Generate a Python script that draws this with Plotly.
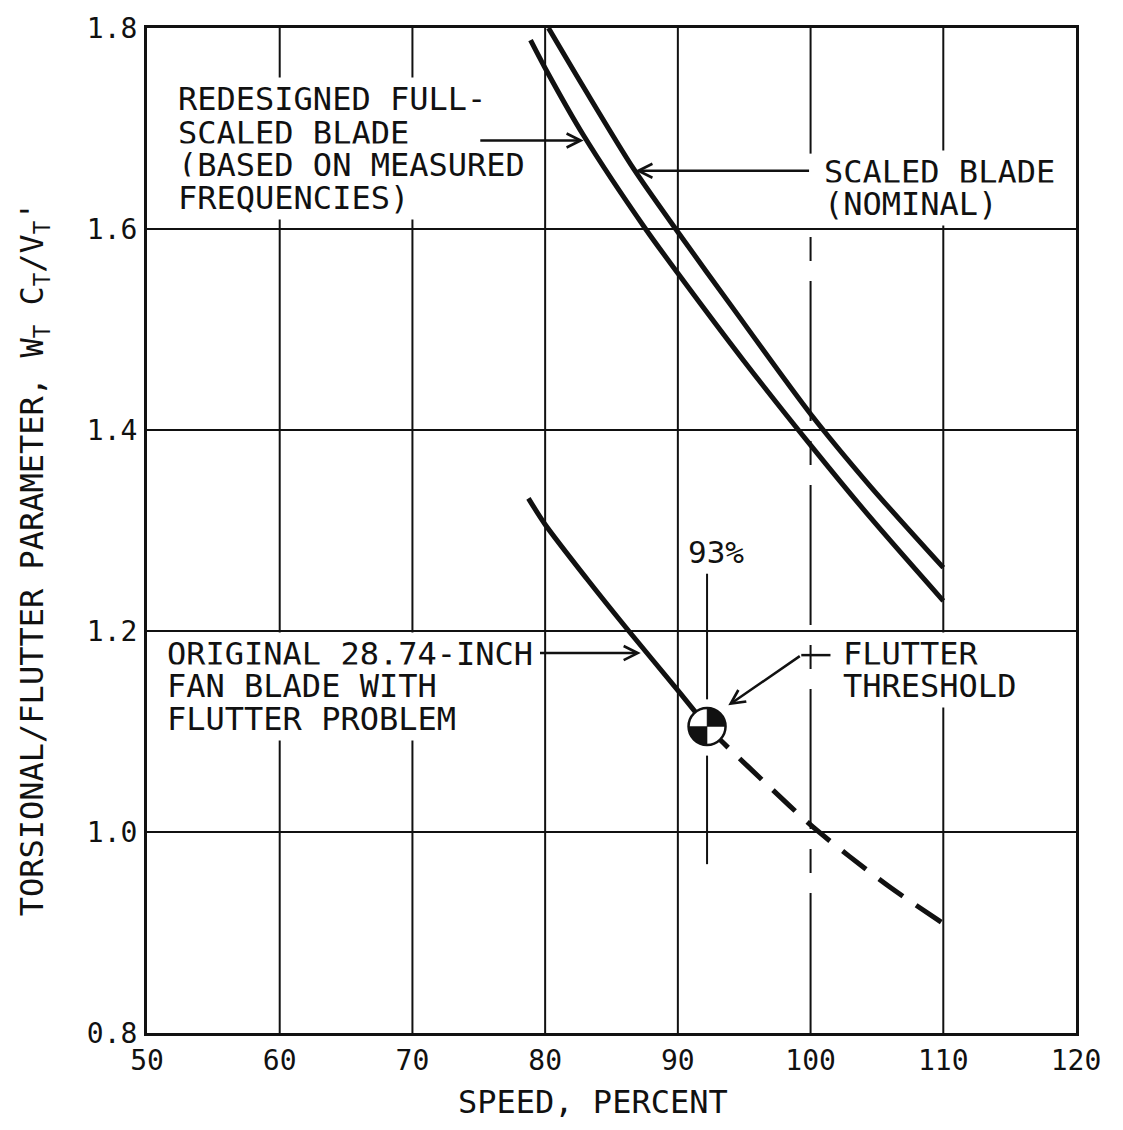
import numpy as np
import plotly.graph_objects as go

# ---------------- data ----------------
speed_scaled = [80.25, 82.9, 86.66, 90.0, 94.0, 100.0, 104.5, 110.0]
param_scaled = [1.800, 1.741, 1.660, 1.597, 1.524, 1.416, 1.344, 1.263]

speed_redesigned = [78.9, 80.17, 82.9, 87.57, 90.0, 94.96, 100.0, 104.5, 110.0]
param_redesigned = [1.788, 1.756, 1.693, 1.600, 1.556, 1.469, 1.385, 1.313, 1.230]

speed_original = [78.74, 80.0, 83.2, 86.3, 90.0, 92.2]
param_original = [1.332, 1.306, 1.251, 1.200, 1.141, 1.105]

speed_original_ext = [92.2, 93.4, 96.9, 100.0, 102.9, 106.1, 110.0]
param_original_ext = [1.105, 1.089, 1.045, 1.007, 0.976, 0.944, 0.909]

flutter_speed = 92.2
flutter_param = 1.105

x_ticks = [50, 60, 70, 80, 90, 100, 110, 120]
x_ticktext = ["50", "60", "70", "80", "90", "100", "110", "120"]
y_ticks = [0.8, 1.0, 1.2, 1.4, 1.6, 1.8]
y_ticktext = ["0.8", "1.0", "1.2", "1.4", "1.6", "1.8"]

FONT = "DejaVu Sans Mono"
INK = "#111111"

fig = go.Figure()

curve_line = dict(color=INK, width=5, shape="spline", smoothing=0.8)
fig.add_trace(go.Scatter(x=speed_scaled, y=param_scaled, mode="lines", line=curve_line,
                         name="Scaled blade (nominal)", showlegend=False, hoverinfo="skip"))
fig.add_trace(go.Scatter(x=speed_redesigned, y=param_redesigned, mode="lines", line=curve_line,
                         name="Redesigned full-scaled blade", showlegend=False, hoverinfo="skip"))
fig.add_trace(go.Scatter(x=speed_original, y=param_original, mode="lines", line=curve_line,
                         name="Original blade", showlegend=False, hoverinfo="skip"))
fig.add_trace(go.Scatter(x=speed_original_ext, y=param_original_ext, mode="lines",
                         line=dict(color=INK, width=5, shape="spline", smoothing=0.8, dash="30px,16px"),
                         name="Original blade (extrapolated)", showlegend=False, hoverinfo="skip"))

shapes = []
grid_w = 2
# vertical grid lines
for xv in x_ticks[1:-1]:
    if xv == 100:
        continue
    shapes.append(dict(type="line", xref="x", yref="paper", x0=xv, x1=xv, y0=0, y1=1,
                       line=dict(color=INK, width=grid_w), layer="below"))
# the 100 % line: solid at the top, dash-dot below 1.6
shapes.append(dict(type="line", xref="x", yref="y", x0=100, x1=100, y0=1.8, y1=1.675,
                   line=dict(color=INK, width=grid_w), layer="below"))
shapes.append(dict(type="line", xref="x", yref="y", x0=100, x1=100, y0=0.8, y1=1.6,
                   line=dict(color=INK, width=grid_w, dash="140px,20px,24px,20px"), layer="below"))
# horizontal grid lines
for yv in y_ticks[1:-1]:
    shapes.append(dict(type="line", xref="paper", yref="y", x0=0, x1=1, y0=yv, y1=yv,
                       line=dict(color=INK, width=grid_w), layer="below"))

# 93 % marker line (broken around the symbol)
shapes.append(dict(type="line", xref="x", yref="y", x0=flutter_speed, x1=flutter_speed,
                   y0=1.257, y1=1.132, line=dict(color=INK, width=2), layer="below"))
shapes.append(dict(type="line", xref="x", yref="y", x0=flutter_speed, x1=flutter_speed,
                   y0=1.076, y1=0.968, line=dict(color=INK, width=2), layer="below"))

# flutter threshold leader (horizontal part)
shapes.append(dict(type="line", xref="x", yref="y", x0=101.5, x1=99.3, y0=1.176, y1=1.176,
                   line=dict(color=INK, width=2.5), layer="above"))

# flutter-threshold symbol: quartered circle in pixel units
r = 18.5
def quadrant(a0, a1, n=18):
    ang = np.radians(np.linspace(a0, a1, n))
    pts = " ".join(f"L{r*np.cos(a):.2f},{r*np.sin(a):.2f}" for a in ang)
    return "M0,0 " + pts + " Z"

sym = dict(xref="x", yref="y", xsizemode="pixel", ysizemode="pixel",
           xanchor=flutter_speed, yanchor=flutter_param, layer="above")
shapes.append(dict(type="circle", x0=-r, x1=r, y0=-r, y1=r, fillcolor="white",
                   line=dict(color=INK, width=0), **sym))
shapes.append(dict(type="path", path=quadrant(0, 90), fillcolor=INK,
                   line=dict(color=INK, width=0.5), **sym))
shapes.append(dict(type="path", path=quadrant(180, 270), fillcolor=INK,
                   line=dict(color=INK, width=0.5), **sym))
shapes.append(dict(type="circle", x0=-r, x1=r, y0=-r, y1=r, fillcolor="rgba(0,0,0,0)",
                   line=dict(color=INK, width=2.5), **sym))

annotations = []
def label(text, x, y, bg=True, xanchor="left", size=32, width=None):
    a = dict(text=text, x=x, y=y, xref="x", yref="y", xanchor=xanchor,
             yanchor="middle", showarrow=False, align="left",
             font=dict(family=FONT, size=size, color=INK),
             bgcolor="white" if bg else "rgba(0,0,0,0)", borderpad=2)
    if width:
        a["width"] = width
    annotations.append(a)

for t, yy in zip(["REDESIGNED FULL-", "SCALED BLADE", "(BASED ON MEASURED", "FREQUENCIES)"],
                 [1.729, 1.696, 1.664, 1.631]):
    label(t, 52.1, yy, width=358)
for t, yy in zip(["SCALED BLADE", "(NOMINAL)"], [1.657, 1.625]):
    label(t, 100.75, yy, width=236)
for t, yy in zip(["ORIGINAL 28.74-INCH", "FAN BLADE WITH", "FLUTTER PROBLEM"],
                 [1.177, 1.145, 1.112]):
    label(t, 51.3, yy)
for t, yy in zip(["FLUTTER", "THRESHOLD"], [1.177, 1.145]):
    label(t, 102.2, yy)
label("93%", 92.9, 1.279, bg=False, xanchor="center", size=31)

def arrow(x0, y0, x1, y1):
    annotations.append(dict(text="", x=x1, y=y1, ax=x0, ay=y0, xref="x", yref="y",
                            axref="x", ayref="y", showarrow=True, arrowhead=5,
                            arrowsize=1.1, arrowwidth=2.5, arrowcolor=INK, standoff=0))

arrow(75.0, 1.688, 82.9, 1.688)
arrow(100.0, 1.658, 86.8, 1.658)
arrow(79.5, 1.178, 87.2, 1.178)
arrow(99.3, 1.176, 93.8, 1.126)

# axis titles
annotations.append(dict(text="SPEED, PERCENT", x=0.48, y=-0.069, xref="paper", yref="paper",
                        xanchor="center", yanchor="middle", showarrow=False,
                        font=dict(family=FONT, size=32, color=INK)))
annotations.append(dict(text="TORSIONAL/FLUTTER PARAMETER, W<sub>T</sub> C<sub>T</sub>/V<sub>T</sub>'",
                        x=-0.122, y=0.472, xref="paper", yref="paper", textangle=-90,
                        xanchor="center", yanchor="middle", showarrow=False,
                        font=dict(family=FONT, size=32, color=INK)))

fig.update_layout(
    width=1123, height=1130,
    margin=dict(l=147, r=47, t=20, b=97),
    paper_bgcolor="white", plot_bgcolor="white",
    shapes=shapes, annotations=annotations, showlegend=False,
)
fig.update_xaxes(range=[50, 120], tickvals=x_ticks, ticktext=x_ticktext, showgrid=False,
                 zeroline=False, showline=True, mirror=True, linecolor=INK, linewidth=3,
                 ticks="", tickfont=dict(family=FONT, size=28, color=INK), ticklabelstandoff=0)
fig.update_yaxes(range=[0.8, 1.8], tickvals=y_ticks, ticktext=y_ticktext, showgrid=False,
                 zeroline=False, showline=True, mirror=True, linecolor=INK, linewidth=3,
                 ticks="", tickfont=dict(family=FONT, size=28, color=INK), ticklabelstandoff=1)

fig.write_html("out.html")
